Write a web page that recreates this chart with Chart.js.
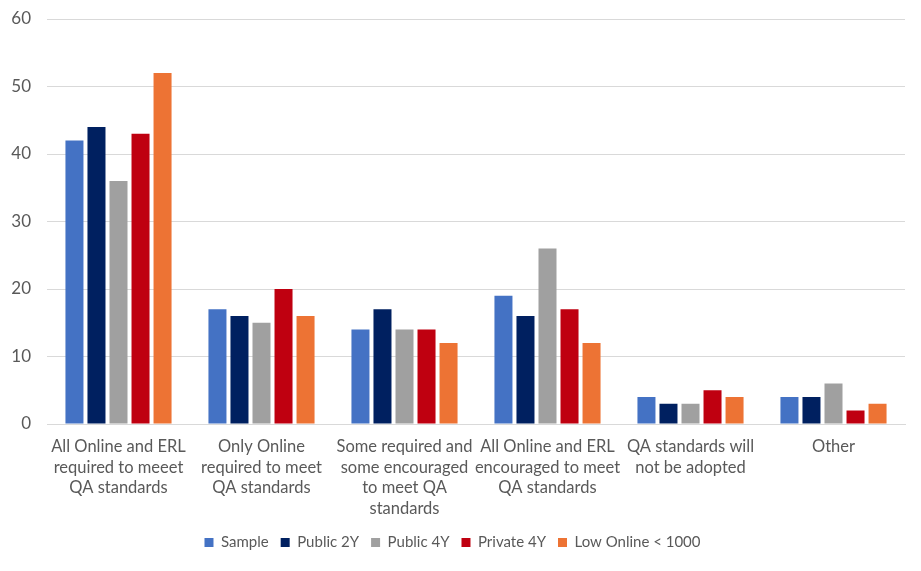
<!DOCTYPE html>
<html>
<head>
<meta charset="utf-8">
<script src="https://cdn.jsdelivr.net/npm/chart.js@4/dist/chart.umd.min.js"></script>
<style>
  html, body { margin: 0; padding: 0; background: #fff; }
  #wrap { width: 921px; height: 571px; }
</style>
</head>
<body>
<div id="wrap"><canvas id="qaChart" width="921" height="571"></canvas></div>
<script>
// categories (multi-line labels as in the original)
const categories = [
  ['All Online and ERL', 'required to meeet', 'QA standards'],
  ['Only Online', 'required to meet', 'QA standards'],
  ['Some required and', 'some encouraged', 'to meet QA', 'standards'],
  ['All Online and ERL', 'encouraged to meet', 'QA standards'],
  ['QA standards will', 'not be adopted'],
  ['Other']
];

const sample    = [42, 17, 14, 19, 4, 4];
const public2Y  = [44, 16, 17, 16, 3, 4];
const public4Y  = [36, 15, 14, 26, 3, 6];
const private4Y = [43, 20, 14, 17, 5, 2];
const lowOnline = [52, 16, 12, 12, 4, 3];

const yTicks = [0, 10, 20, 30, 40, 50, 60];

const font = 'Lato, "Liberation Sans", sans-serif';
const textColor = '#595959';
const gridColor = '#d9d9d9';

const ctx = document.getElementById('qaChart').getContext('2d');

const chart = new Chart(ctx, {
  type: 'bar',
  data: {
    labels: categories,
    datasets: [
      { label: 'Sample', data: sample, backgroundColor: '#4472C4' },
      { label: 'Public 2Y', data: public2Y, backgroundColor: '#002060' },
      { label: 'Public 4Y', data: public4Y, backgroundColor: '#A0A0A0' },
      { label: 'Private 4Y', data: private4Y, backgroundColor: '#BF0010' },
      { label: 'Low Online < 1000', data: lowOnline, backgroundColor: '#ED7334' }
    ]
  },
  options: {
    responsive: false,
    animation: false,
    layout: {
      padding: { top: 19, right: 16, bottom: 11, left: 0 }
    },
    datasets: {
      bar: {
        categoryPercentage: 0.77,
        barPercentage: 0.818
      }
    },
    plugins: {
      tooltip: { enabled: false },
      legend: {
        position: 'bottom',
        labels: {
          boxWidth: 9,
          boxHeight: 9,
          padding: 12,
          color: textColor,
          font: { family: font, size: 15 }
        }
      }
    },
    scales: {
      x: {
        grid: { display: false, drawTicks: false },
        border: { display: true, color: gridColor, width: 1 },
        ticks: {
          color: textColor,
          padding: 12,
          maxRotation: 0,
          minRotation: 0,
          autoSkip: false,
          font: { family: font, size: 16.5, lineHeight: 1.26 }
        },
        afterFit: scale => { scale.height = 99; }
      },
      y: {
        min: 0,
        max: 60,
        afterBuildTicks: scale => { scale.ticks = yTicks.map(v => ({ value: v })); },
        grid: { color: gridColor, lineWidth: 1, drawTicks: false },
        border: { display: false },
        ticks: {
          color: textColor,
          padding: 16,
          font: { family: font, size: 17 }
        },
        afterFit: scale => {
          scale.width = 47;
          // the tick padding should not push the plot area down
          scale.paddingTop = 0;
          scale.paddingBottom = 0;
        }
      }
    }
  }
});
</script>
</body>
</html>
